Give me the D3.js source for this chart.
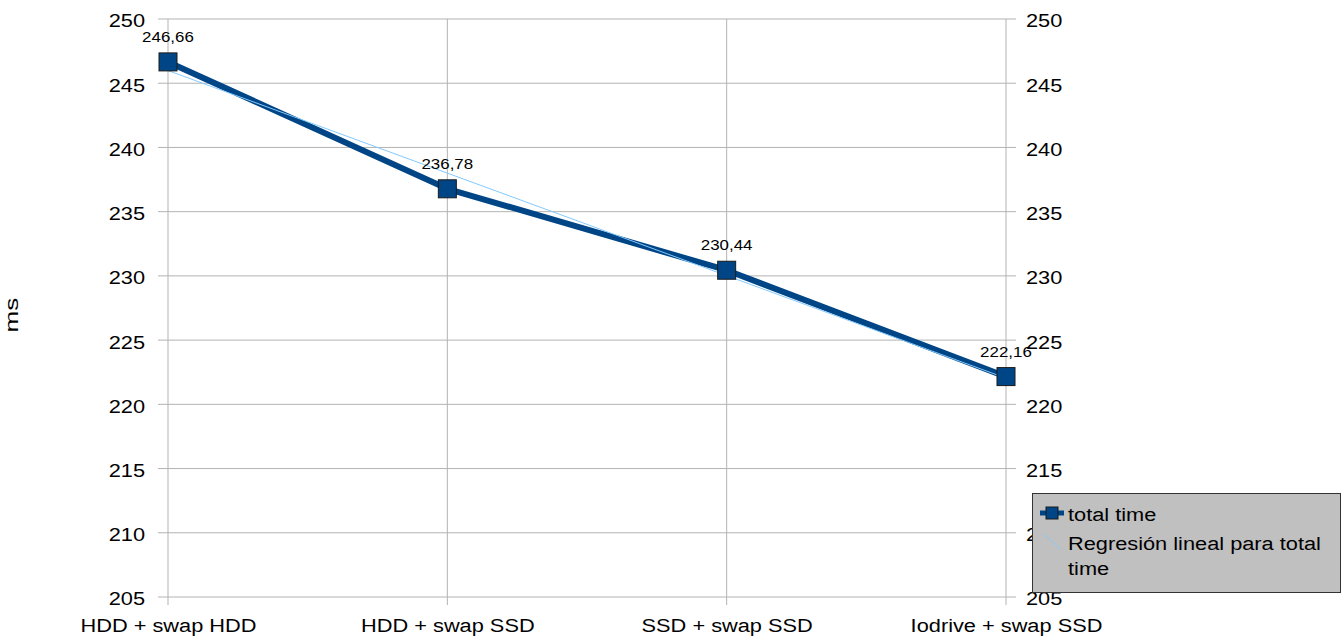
<!DOCTYPE html>
<html>
<head>
<meta charset="utf-8">
<script src="https://cdn.jsdelivr.net/npm/d3@7"></script>
<style>
  html, body { margin: 0; padding: 0; background: #fff; }
  svg { display: block; font-family: "Liberation Sans", Arial, sans-serif; }
</style>
</head>
<body>
<svg id="chart" width="1343" height="636"></svg>
<script>
// Total time per storage configuration (ms)
const categories = ["HDD + swap HDD", "HDD + swap SSD", "SSD + swap SSD", "Iodrive + swap SSD"];
const totalTime = [246.66, 236.78, 230.44, 222.16];
const valueLabels = ["246,66", "236,78", "230,44", "222,16"];
const yTicks = [205, 210, 215, 220, 225, 230, 235, 240, 245, 250];
const legendLabels = ["total time", "Regresión lineal para total", "time"];

const svg = d3.select("#chart");
const gridColor = "#b3b3b3";
const lineColor = "#004586";
const trendColor = "#83caff";
const FONT = "Liberation Sans, Arial, sans-serif";
const WIDEN = 1.21; // horizontal text stretch

// Widen a text element horizontally around its own anchor point
function widen(sel) {
  sel.each(function () {
    const t = d3.select(this);
    const tx = +t.attr("x") || 0, ty = +t.attr("y") || 0;
    t.attr("transform", `translate(${tx},${ty}) scale(${WIDEN},1) translate(${-tx},${-ty})`);
  });
}

const x = d3.scalePoint().domain(categories).range([168, 1006]);
const y = d3.scaleLinear().domain([205, 250]).range([597, 19]);

// Horizontal grid lines, extended past both axes as tick marks
svg.append("g").selectAll("line").data(yTicks).join("line")
  .attr("x1", 158).attr("x2", 1016)
  .attr("y1", d => y(d)).attr("y2", d => y(d))
  .attr("stroke", gridColor).attr("stroke-width", 1);

// Vertical grid lines at each category, with ticks below the axis
svg.append("g").selectAll("line").data(categories).join("line")
  .attr("x1", d => x(d)).attr("x2", d => x(d))
  .attr("y1", 19).attr("y2", 605)
  .attr("stroke", gridColor).attr("stroke-width", 1);

// Left and right value axes
const leftAxis = svg.append("g").attr("transform", "translate(158,0)")
  .call(d3.axisLeft(y).tickValues(yTicks).tickSize(0).tickPadding(13));
const rightAxis = svg.append("g").attr("transform", "translate(1016,0)")
  .call(d3.axisRight(y).tickValues(yTicks).tickSize(0).tickPadding(10));
[leftAxis, rightAxis].forEach(a => {
  a.select(".domain").remove();
  a.selectAll("text").attr("font-size", 18).attr("fill", "#000")
    .attr("font-family", FONT).attr("dy", "0.44em").call(widen);
});

// Category axis labels
const xAxis = svg.append("g").attr("transform", "translate(0,632)")
  .call(d3.axisBottom(x).tickSize(0).tickPadding(0));
xAxis.select(".domain").remove();
xAxis.selectAll("text").attr("font-size", 18).attr("fill", "#000")
  .attr("font-family", FONT).attr("y", 0).attr("dy", 0).call(widen);

// Y axis title
svg.append("text")
  .attr("transform", "translate(18,315) rotate(-90) scale(1.45,1)")
  .attr("text-anchor", "middle")
  .attr("font-size", 18)
  .text("ms");

// Linear regression over category index
const xs = totalTime.map((_, i) => i + 1);
const n = xs.length;
const mx = d3.mean(xs), my = d3.mean(totalTime);
const slope = d3.sum(xs.map((xi, i) => (xi - mx) * (totalTime[i] - my))) /
              d3.sum(xs.map(xi => (xi - mx) ** 2));
const intercept = my - slope * mx;

// Data series
const pts = categories.map((c, i) => ({ c, v: totalTime[i], label: valueLabels[i] }));
svg.append("path")
  .datum(pts)
  .attr("fill", "none")
  .attr("stroke", lineColor)
  .attr("stroke-width", 6)
  .attr("stroke-linejoin", "round")
  .attr("d", d3.line().x(d => x(d.c)).y(d => y(d.v)));

// Trend line drawn over the series
svg.append("line")
  .attr("x1", x(categories[0])).attr("y1", y(intercept + slope * 1))
  .attr("x2", x(categories[n - 1])).attr("y2", y(intercept + slope * n))
  .attr("stroke", trendColor).attr("stroke-width", 1);

// Square markers
const ms = 18;
svg.append("g").selectAll("rect").data(pts).join("rect")
  .attr("x", d => x(d.c) - ms / 2).attr("y", d => y(d.v) - ms / 2)
  .attr("width", ms).attr("height", ms)
  .attr("fill", lineColor).attr("stroke", "#1a1a1a").attr("stroke-width", 1);

// Value labels
svg.append("g").selectAll("text").data(pts).join("text")
  .attr("x", d => x(d.c)).attr("y", d => y(d.v) - 20)
  .attr("text-anchor", "middle")
  .attr("font-size", 14)
  .text(d => d.label)
  .call(widen);

// Legend
const lg = svg.append("g");
lg.append("rect")
  .attr("x", 1032.5).attr("y", 493.5).attr("width", 308).attr("height", 99)
  .attr("fill", "#c0c0c0").attr("stroke", "#333").attr("stroke-width", 1);
lg.append("line").attr("x1", 1040).attr("x2", 1064).attr("y1", 513).attr("y2", 513)
  .attr("stroke", lineColor).attr("stroke-width", 5);
lg.append("rect").attr("x", 1046).attr("y", 507).attr("width", 12).attr("height", 12)
  .attr("fill", lineColor).attr("stroke", "#1a1a1a").attr("stroke-width", 1);
lg.append("line").attr("x1", 1044).attr("x2", 1060).attr("y1", 534).attr("y2", 549)
  .attr("stroke", trendColor).attr("stroke-width", 1);
lg.selectAll("text").data(legendLabels).join("text")
  .attr("x", 1068)
  .attr("y", (d, i) => [521, 550, 575][i])
  .attr("font-size", 18)
  .text(d => d)
  .call(widen);
</script>
</body>
</html>
